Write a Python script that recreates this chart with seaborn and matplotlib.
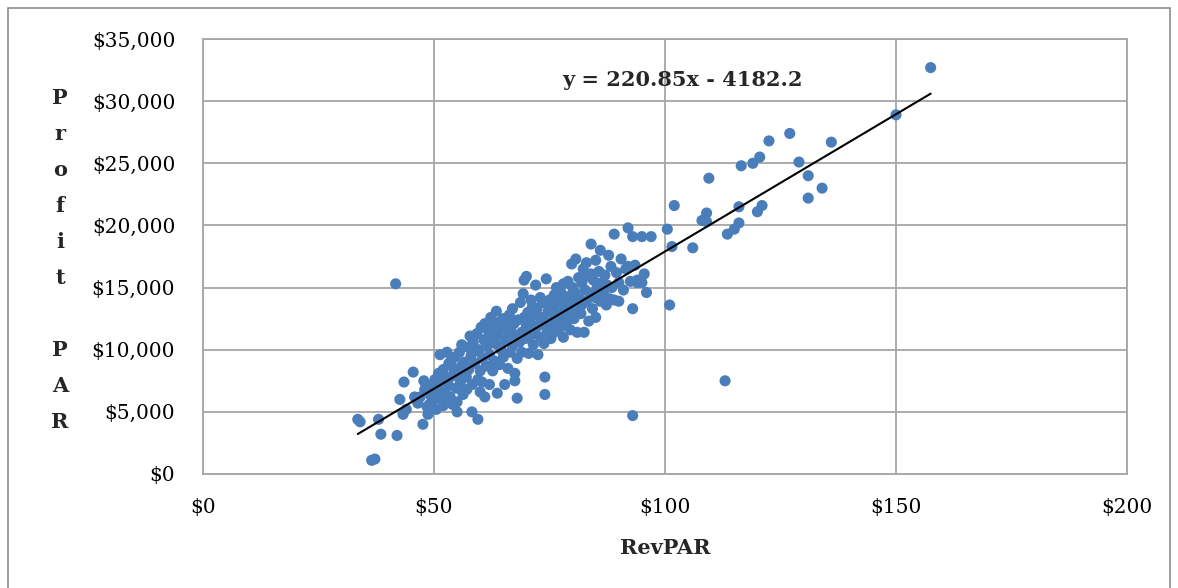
import numpy as np
import pandas as pd
import matplotlib
matplotlib.use("Agg")
import matplotlib.pyplot as plt
from matplotlib.patches import Rectangle
from matplotlib.ticker import FuncFormatter
import seaborn as sns

# RevPAR ($) 
revpar = [
    33.5, 34, 36.5, 37.2, 38, 38.5,
    41.7, 42, 42.6, 43.3, 43.5, 44,
    45.5, 45.8, 46.5, 47, 47.6, 47.8, 48.3, 48.7, 48, 48.5,
    49, 49.3, 49.7, 50, 50.2, 50.5, 50.8, 51, 51.3, 51.5, 51.8, 52, 52, 52.3, 52.8, 52.5,
    53, 53.2, 53.5, 53.8, 54, 54, 54.3, 54.5, 54.8, 55, 55, 55.2, 55.5, 55.7, 56, 56, 56.3, 56.5,
    57, 57.1, 57.3, 57.5, 57.8, 58, 58.2, 58.3, 58.5, 58.8, 59, 59.3, 59.5, 59.5, 59.8, 60, 60, 60.2,
    60.4, 60.5, 60.8, 61, 61, 61.3, 61.5, 61.8, 62, 62, 62.3, 62.5, 62.7, 63, 63,
    63.3, 63.5, 63.7, 63.8, 64, 64.2, 64.5, 64.7, 65, 65, 65.3, 65.5, 65.7, 66, 66,
    66.3, 66.5, 66.7, 67, 67, 67.3, 67.5, 67.5, 67.8, 68, 68, 68.2, 68.5, 68.7, 69, 69,
    69.3, 69.5, 69.5, 69.8, 70, 70, 70.3, 70.5, 70.7, 71, 71, 71.3, 71.5, 71.7, 72, 72,
    72.3, 72.5, 72.7, 73, 73, 73.3, 73.5, 73.8, 74, 74, 74, 74.3, 74.5, 74.7, 75, 75,
    75.3, 75.5, 75.8, 76, 76, 76.3, 76.5, 76.8, 77, 77.2, 77.5, 77.8, 78, 78, 78.3,
    78.5, 78.7, 79, 79, 79.3, 79.5, 79.8, 80, 80, 80.3, 80.5, 80.7, 81, 81, 81.3,
    81.5, 81.8, 82, 82, 82.3, 82.5, 82.7, 83, 83, 83.3, 83.5, 83.8, 84, 84, 84.3,
    84.5, 84.8, 85, 85, 85.3, 85.7, 86, 86, 86.3, 86.7, 87, 87.3, 87.5, 87.8, 88,
    88.3, 88.5, 89, 89, 89.5, 90, 90, 90.5, 91, 91.5, 92, 92, 92.5, 93, 93, 93,
    93.5, 94, 94, 95, 95, 95.5, 96, 97,
    100.5, 101, 101.5, 102, 106, 108, 109, 109, 109.5, 113, 113.5, 115, 116, 116,
    116.5, 119, 120, 120.5, 121, 122.5, 127, 129, 131, 131, 134, 136, 150, 157.5,
]

# Profit PAR ($ thousands)
profit_k = [
    4.4, 4.2, 1.1, 1.2, 4.4, 3.2,
    15.3, 3.1, 6.0, 4.8, 7.4, 5.2,
    8.2, 6.2, 5.7, 6.2, 4.0, 7.5, 7.2, 4.8, 6.8, 5.4,
    5.6, 6.3, 7.0, 6.0, 7.6, 5.2, 6.6, 8.1, 9.6, 7.2, 6.0, 8.4, 5.5, 7.8, 9.8, 6.8,
    7.3, 8.9, 6.2, 9.2, 7.9, 5.6, 8.5, 9.4, 6.9, 5.8, 5.0, 8.1, 9.8, 7.4, 10.4, 8.7, 6.4, 9.0,
    7.8, 6.8, 10.2, 8.4, 11.1, 9.5, 5.0, 7.2, 10.6, 8.9, 9.9, 11.3, 7.6, 4.4, 10.0, 6.6, 8.3, 11.8,
    7.4, 9.3, 10.8, 12.1, 6.2, 8.7, 10.3, 11.5, 7.2, 9.6, 12.6, 10.9, 8.3, 11.9, 9.1,
    10.5, 13.1, 6.5, 11.2, 12.2, 8.8, 10.0, 11.7, 12.5, 9.4, 7.2, 10.7, 12.0, 11.0, 8.5,
    12.8, 9.8, 11.5, 10.3, 13.3, 12.1, 8.1, 7.5, 11.1, 6.1, 9.3, 12.4, 10.6, 13.8, 11.4, 9.8,
    14.5, 12.6, 15.6, 10.9, 11.9, 15.9, 13.0, 9.7, 12.3, 14.0, 11.2, 13.5, 10.4, 12.8, 15.2, 11.7,
    13.3, 9.6, 12.0, 14.2, 11.0, 12.6, 13.8, 10.5, 6.4, 7.8, 12.3, 15.7, 11.5, 13.1, 14.0, 12.0,
    10.9, 13.5, 12.4, 14.4, 11.4, 13.0, 15.0, 12.1, 13.8, 11.7, 14.6, 12.8, 15.3, 11.0, 13.4,
    14.0, 12.2, 15.5, 13.0, 14.3, 11.6, 16.9, 13.7, 15.0, 12.5, 14.6, 17.3, 13.2, 11.4, 15.8,
    14.1, 12.9, 15.4, 13.6, 16.5, 11.4, 14.8, 13.9, 17.0, 15.9, 12.3, 14.5, 16.1, 18.5, 13.3,
    15.6, 14.2, 17.2, 12.6, 15.0, 16.3, 13.9, 18.0, 15.4, 14.5, 16.0, 13.6, 15.2, 17.6, 14.1,
    16.7, 15.0, 19.3, 14.0, 16.2, 15.4, 13.9, 17.3, 14.8, 16.5, 19.8, 16.7, 15.5, 13.3, 4.7, 19.1,
    16.8, 15.4, 15.6, 19.1, 15.4, 16.1, 14.6, 19.1,
    19.7, 13.6, 18.3, 21.6, 18.2, 20.4, 21.0, 20.3, 23.8, 7.5, 19.3, 19.7, 21.5, 20.2,
    24.8, 25.0, 21.1, 25.5, 21.6, 26.8, 27.4, 25.1, 24.0, 22.2, 23.0, 26.7, 28.9, 32.7,
]

slope = 220.85
intercept = -4182.2
equation = "y = 220.85x - 4182.2"

df = pd.DataFrame({"RevPAR": revpar, "Profit": np.array(profit_k) * 1000})

sns.set_style("white")
plt.rcParams["font.family"] = ["DejaVu Serif", "DejaVu Sans"]

fig = plt.figure(figsize=(11.78, 5.88), dpi=100)
ax = fig.add_axes([203 / 1178, 1 - 474 / 588, (1127 - 203) / 1178, (474 - 39) / 588])

grid_c = "#a6a6a6"
ax.set_axisbelow(True)
ax.grid(True, color=grid_c, linewidth=1.3)
for s in ax.spines.values():
    s.set_color(grid_c)
    s.set_linewidth(1.3)

sns.scatterplot(data=df, x="RevPAR", y="Profit", ax=ax, color="#4a7ebb",
                s=64, edgecolor="none", legend=False, zorder=3)

xl = np.array([df["RevPAR"].min(), df["RevPAR"].max()])
ax.plot(xl, slope * xl + intercept, color="black", linewidth=1.5, zorder=4)

ax.set_xlim(0, 200)
ax.set_ylim(0, 35000)
ax.set_xticks([0, 50, 100, 150, 200])
ax.set_yticks(range(0, 35001, 5000))
ax.xaxis.set_major_formatter(FuncFormatter(lambda v, p: f"${v:,.0f}"))
ax.yaxis.set_major_formatter(FuncFormatter(lambda v, p: f"${v:,.0f}"))
ax.tick_params(axis="both", length=0, labelsize=14.5, labelcolor="black")
ax.tick_params(axis="x", pad=17)
ax.tick_params(axis="y", pad=20)
ax.set_xlabel("")
ax.set_ylabel("")

fig.text(665 / 1178, 1 - 548 / 588, "RevPAR", ha="center", va="center",
         fontsize=15, fontweight="bold")
fig.text(683 / 1178, 1 - 80 / 588, equation, ha="center", va="center",
         fontsize=15, fontweight="bold")

letters = ["P", "r", "o", "f", "i", "t", "", "P", "A", "R"]
for i, ch in enumerate(letters):
    fig.text(60 / 1178, 1 - (98 + 36 * i) / 588, ch, ha="center", va="center",
             fontsize=15, fontweight="bold")

fig.patches.append(Rectangle((8 / 1178, -0.05), (1170 - 8) / 1178, 1.05 - 8 / 588,
                             transform=fig.transFigure, fill=False,
                             edgecolor="#8c8c8c", linewidth=1.2))

fig.savefig("out.png", dpi=100)
